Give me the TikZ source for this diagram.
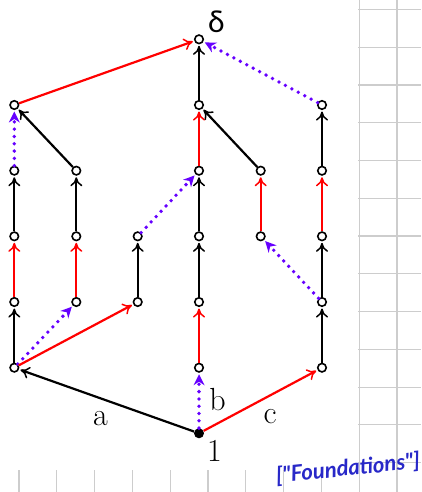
\documentclass[tikz,border=0pt]{standalone}
\usepackage{fontspec}
\newfontfamily\handfont{Lato}
\usetikzlibrary{arrows.meta}
\definecolor{myred}{RGB}{255,0,0}
\definecolor{mypurple}{RGB}{102,0,255}
\definecolor{hand}{RGB}{40,40,200}
\definecolor{gridgray}{RGB}{205,205,205}
\tikzset{
 pt/.style={circle,draw,line width=1.6pt,minimum size=8.5pt,inner sep=0pt,fill=white},
 root/.style={circle,fill=black,minimum size=10pt,inner sep=0pt},
 blk/.style={line width=2.2pt,-{To[length=9pt,width=12pt,line width=1.5pt]},shorten >=1.5pt},
 rd/.style={blk,draw=myred},
 dt/.style={draw=mypurple,line width=3.8pt,line cap=round,dash pattern=on 0pt off 7.3pt,-{Stealth[length=11pt,width=11pt,line width=0pt]},shorten >=1.5pt},
 lbl/.style={font=\fontsize{32}{32}\selectfont,inner sep=0pt,anchor=base},
}
\begin{document}
\begin{tikzpicture}[x=1pt,y=-1pt]
\useasboundingbox (0,0) rectangle (421,492);
% grid background
\foreach \k in {0,...,10} \draw[gridgray,line width=1.2pt] ({19+37.8*\k},0) -- ({19+37.8*\k},492);
\foreach \k in {0,...,12} \draw[gridgray,line width=1.2pt] (0,{9.5+37.76*\k}) -- (421,{9.5+37.76*\k});
\fill[white] (0,0) rectangle (358,470);
% nodes
\def\cA{14.3}\def\cB{76.3}\def\cC{137.7}\def\cD{199}\def\cE{260.7}\def\cF{322}
\def\rA{39.3}\def\rB{105}\def\rC{170.7}\def\rD{236.3}\def\rE{302}\def\rF{367.7}\def\rG{433.3}
\node[pt] (d30) at (\cD,\rA) {};
\node[pt] (d01) at (\cA,\rB) {};
\node[pt] (d31) at (\cD,\rB) {};
\node[pt] (d51) at (\cF,\rB) {};
\node[pt] (d02) at (\cA,\rC) {};
\node[pt] (d12) at (\cB,\rC) {};
\node[pt] (d32) at (\cD,\rC) {};
\node[pt] (d42) at (\cE,\rC) {};
\node[pt] (d52) at (\cF,\rC) {};
\node[pt] (d03) at (\cA,\rD) {};
\node[pt] (d13) at (\cB,\rD) {};
\node[pt] (d23) at (\cC,\rD) {};
\node[pt] (d33) at (\cD,\rD) {};
\node[pt] (d43) at (\cE,\rD) {};
\node[pt] (d53) at (\cF,\rD) {};
\node[pt] (d04) at (\cA,\rE) {};
\node[pt] (d14) at (\cB,\rE) {};
\node[pt] (d24) at (\cC,\rE) {};
\node[pt] (d34) at (\cD,\rE) {};
\node[pt] (d54) at (\cF,\rE) {};
\node[pt] (d05) at (\cA,\rF) {};
\node[pt] (d35) at (\cD,\rF) {};
\node[pt] (d55) at (\cF,\rF) {};
\node[root] (one) at (\cD,\rG) {};
% edges
\draw[blk] (one) -- (d05);
\draw[dt] (one) -- (d35);
\draw[rd] (one) -- (d55);
\draw[blk] (d05) -- (d04);
\draw[dt] (d05) -- (d14);
\draw[rd] (d05) -- (d24);
\draw[rd] (d35) -- (d34);
\draw[blk] (d55) -- (d54);
\draw[rd] (d04) -- (d03);
\draw[rd] (d14) -- (d13);
\draw[blk] (d24) -- (d23);
\draw[blk] (d34) -- (d33);
\draw[blk] (d54) -- (d53);
\draw[dt] (d54) -- (d43);
\draw[blk] (d03) -- (d02);
\draw[blk] (d13) -- (d12);
\draw[dt] (d23) -- (d32);
\draw[blk] (d33) -- (d32);
\draw[rd] (d43) -- (d42);
\draw[rd] (d53) -- (d52);
\draw[dt] (d02) -- (d01);
\draw[blk] (d12) -- (d01);
\draw[rd] (d32) -- (d31);
\draw[blk] (d42) -- (d31);
\draw[blk] (d52) -- (d51);
\draw[rd] (d01) -- (d30);
\draw[blk] (d31) -- (d30);
\draw[dt] (d51) -- (d30);
% labels
\node[lbl] (la) at (100.5,425) {a};
\node[lbl] (lb) at (217.5,410) {b};
\node[lbl] (lc) at (270,423) {c};
\node[lbl] (l1) at (214.5,461.7) {1};
\node[lbl,font=\handfont\fontsize{30}{30}\selectfont] (ld) at (216.5,33) {δ};
\node[text=hand,font=\handfont\bfseries\itshape\fontsize{22}{22}\selectfont,rotate=6,inner sep=0pt] (hw) at (348,469) {["Foundations"]};
\end{tikzpicture}
\end{document}
